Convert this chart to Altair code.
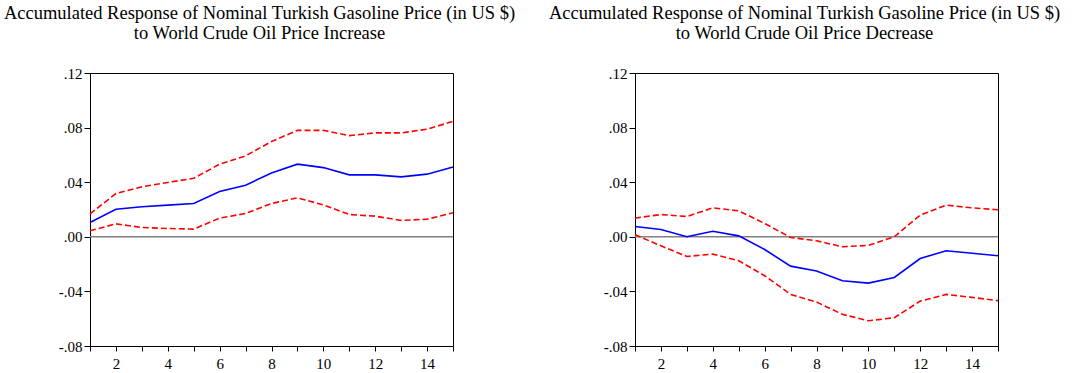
import altair as alt
import pandas as pd

steps = list(range(1, 16))

inc_resp = [0.0105, 0.0202, 0.0220, 0.0232, 0.0244, 0.0332, 0.0378, 0.0468, 0.0532, 0.0507, 0.0454, 0.0454, 0.0439, 0.0459, 0.0512]
inc_upper = [0.0168, 0.0317, 0.0366, 0.0398, 0.0429, 0.0532, 0.0593, 0.0698, 0.0780, 0.0780, 0.0741, 0.0761, 0.0761, 0.0788, 0.0846]
inc_lower = [0.0044, 0.0095, 0.0068, 0.0061, 0.0056, 0.0137, 0.0171, 0.0244, 0.0285, 0.0234, 0.0163, 0.0151, 0.0120, 0.0129, 0.0176]

dec_resp = [0.0076, 0.0054, 0.0000, 0.0041, 0.0007, -0.0093, -0.0215, -0.0251, -0.0322, -0.0339, -0.0298, -0.0159, -0.0102, -0.0120, -0.0139]
dec_upper = [0.0137, 0.0163, 0.0149, 0.0212, 0.0190, 0.0098, -0.0005, -0.0029, -0.0073, -0.0063, 0.0000, 0.0159, 0.0232, 0.0212, 0.0198]
dec_lower = [0.0015, -0.0066, -0.0144, -0.0127, -0.0176, -0.0285, -0.0422, -0.0478, -0.0568, -0.0615, -0.0593, -0.0471, -0.0422, -0.0444, -0.0468]

title_inc = ["Accumulated Response of Nominal Turkish Gasoline Price (in US $)", "to World Crude Oil Price Increase"]
title_dec = ["Accumulated Response of Nominal Turkish Gasoline Price (in US $)", "to World Crude Oil Price Decrease"]

y_ticks = [-0.08, -0.04, 0.0, 0.04, 0.08, 0.12]
zero_line = [0.0]
SERIF = "Liberation Serif"

y_label_expr = ("datum.value < 0 ? '-' + substring(format(abs(datum.value), '.2f'), 1)"
                " : substring(format(datum.value, '.2f'), 1)")

axis_common = dict(labelFont=SERIF, labelFontSize=15, labelColor="black",
                   domainColor="black", tickColor="black", grid=False,
                   domainWidth=1, tickWidth=1)


def panel(resp, upper, lower, title):
    df = pd.DataFrame({
        "step": steps * 3,
        "value": resp + upper + lower,
        "band": ["resp"] * 15 + ["upper"] * 15 + ["lower"] * 15,
    })
    xs = alt.Scale(domain=[1, 15], nice=False, zero=False)
    ys = alt.Scale(domain=[-0.08, 0.12], nice=False, zero=False)
    x_enc = alt.X("step:Q", scale=xs, title=None,
                  axis=alt.Axis(values=steps, labelExpr="datum.value % 2 == 0 ? datum.value : ''",
                                tickSize=5, labelPadding=5, labelFlush=False, **axis_common))
    y_enc = alt.Y("value:Q", scale=ys, title=None,
                  axis=alt.Axis(values=y_ticks, labelExpr=y_label_expr, tickSize=6,
                                labelPadding=2, labelFlush=False, **axis_common))

    zero = alt.Chart(pd.DataFrame({"value": zero_line})).mark_rule(
        color="#808080", strokeWidth=1.5).encode(y=y_enc)

    resp_line = alt.Chart(df).transform_filter("datum.band == 'resp'").mark_line(
        color="#0000FF", strokeWidth=1.6).encode(x=x_enc, y=y_enc)

    band_lines = alt.Chart(df).transform_filter("datum.band != 'resp'").mark_line(
        color="#FF0000", strokeWidth=1.6, strokeDash=[6, 3]).encode(
        x=x_enc, y=y_enc, detail="band:N")

    return alt.layer(zero, band_lines, resp_line).properties(
        width=363, height=273,
        title=alt.TitleParams(text=title, font=SERIF, fontSize=18.5, fontWeight="normal",
                              color="black", anchor="middle", offset=24, lineHeight=20, dx=-12),
    )


chart = alt.hconcat(
    panel(inc_resp, inc_upper, inc_lower, title_inc),
    panel(dec_resp, dec_upper, dec_lower, title_dec),
    spacing=182,
    bounds="flush",
).properties(
    padding={"left": 3, "top": 3, "right": 5, "bottom": 5},
    background="white",
).configure_view(
    stroke="black", strokeWidth=1
).configure_axis(
    labelFont=SERIF, labelFontSize=15, labelColor="black"
)

chart.save("out.html", embed_options={"renderer": "svg", "actions": False})
